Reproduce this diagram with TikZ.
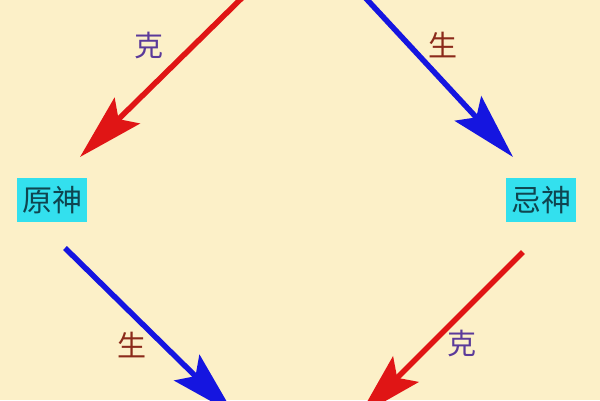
\documentclass[tikz,border=0pt]{standalone}
\usepackage{fontspec}
\usepackage{xcolor}
\usepackage{tikz}
\usetikzlibrary{positioning, arrows.meta}
\newfontfamily\cjk{Noto Sans CJK SC}
\definecolor{paper}{HTML}{FCF0C8}
\definecolor{boxcyan}{HTML}{33E0EE}
\definecolor{boxtext}{HTML}{0F4550}
\definecolor{kepurple}{HTML}{5B3A9A}
\definecolor{shengred}{HTML}{8B2A1A}
\definecolor{arrowred}{HTML}{E01515}
\definecolor{arrowblue}{HTML}{1515E0}

\begin{document}
\begin{tikzpicture}[
    x=1pt, y=-1pt,
    shennode/.style={rectangle, fill=boxcyan, text=boxtext, inner xsep=5pt, inner ysep=8pt, font=\cjk\fontsize{30}{30}\selectfont},
    kelabel/.style={text=kepurple, font=\cjk\fontsize{29}{29}\selectfont},
    shenglabel/.style={text=shengred, font=\cjk\fontsize{29}{29}\selectfont},
    kearrow/.style={draw=arrowred, line width=5.5pt, -{Stealth[length=66pt, width=36pt, inset=12pt]}},
    shengarrow/.style={draw=arrowblue, line width=5.5pt, -{Stealth[length=66pt, width=36pt, inset=12pt]}}
]
\fill[paper] (0,0) rectangle (600,400);
\useasboundingbox (0,0) rectangle (600,400);
\node[shennode](yuan) at (52,200){原神};
\node[shennode](ji) at (541,200){忌神};
% ends of the arrows
\coordinate (topL) at (248,-8);
\coordinate (topR) at (360,-8);
\coordinate (yuanin) at (80,157);
\coordinate (jiin) at (513,157);
\coordinate (yuanout) at (65,248);
\coordinate (jiout) at (523,252);
\coordinate (botL) at (234,414);
\coordinate (botR) at (359,416);
\draw[kearrow] (topL) -- (yuanin);
\draw[shengarrow] (topR) -- (jiin);
\draw[shengarrow] (yuanout) -- (botL);
\draw[kearrow] (jiout) -- (botR);
\node[kelabel](ke1) at (149,45){克};
\node[shenglabel](sheng1) at (443,45){生};
\node[shenglabel](sheng2) at (132,345){生};
\node[kelabel](ke2) at (462,343){克};
\end{tikzpicture}
\end{document}
